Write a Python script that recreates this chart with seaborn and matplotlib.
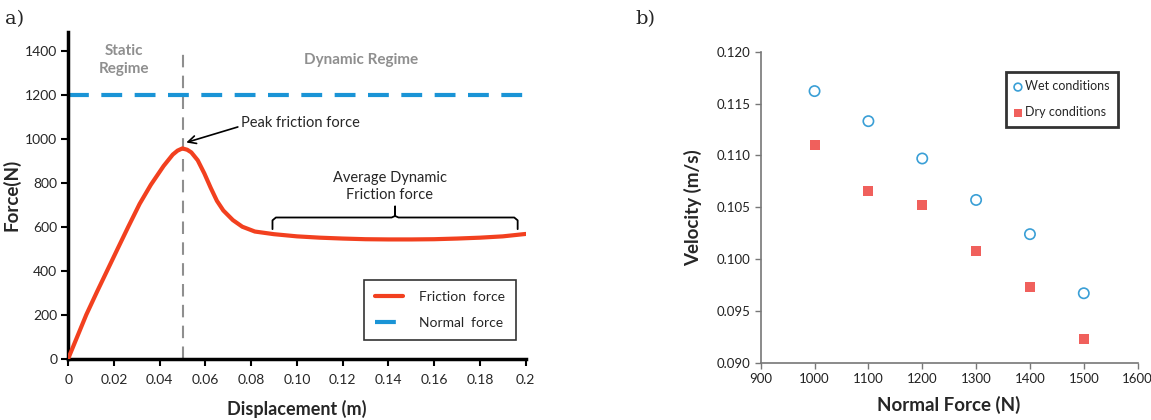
import numpy as np
import pandas as pd
import seaborn as sns
import matplotlib.pyplot as plt

# --- panel a) friction test (values read off the curve) ---
displacement = [0, 0.0079, 0.0126, 0.0172, 0.0218, 0.0263, 0.0312, 0.0361, 0.0417,
                0.0457, 0.0478, 0.0499, 0.0520, 0.0538, 0.0566, 0.0595, 0.0623,
                0.0650, 0.0678, 0.0720, 0.0761, 0.0816, 0.0899, 0.100, 0.110,
                0.120, 0.130, 0.140, 0.150, 0.160, 0.170, 0.180, 0.190, 0.200]
friction = [0, 200, 305, 405, 505, 602, 705, 792, 878,
            930, 948, 958, 952, 940, 904, 844, 778,
            719, 675, 631, 601, 579, 567, 557, 551,
            547, 544, 543, 543, 544, 547, 551, 557, 568]
normal_x = [0, 0.2]
normal_y = [1200, 1200]
peak_x = 0.05

x_ticks_a = [0, 0.02, 0.04, 0.06, 0.08, 0.10, 0.12, 0.14, 0.16, 0.18, 0.2]
x_labels_a = ['0', '0.02', '0.04', '0.06', '0.08', '0.10', '0.12', '0.14', '0.16', '0.18', '0.2']
y_ticks_a = [0, 200, 400, 600, 800, 1000, 1200, 1400]

# --- panel b) velocity vs normal force ---
normal_force = [1000, 1100, 1200, 1300, 1400, 1500]
wet = [0.1162, 0.1133, 0.1097, 0.1057, 0.1024, 0.0967]
dry = [0.1110, 0.1066, 0.1052, 0.1008, 0.0973, 0.0923]

sns.set_style("ticks")
plt.rcParams['font.family'] = ['Lato', 'DejaVu Sans']

RED = '#f2401f'
BLUE = '#1a94d6'
GREY = '#8f8f8f'

fig = plt.figure(figsize=(11.51, 4.2), dpi=100)
ax1 = fig.add_axes([0.0593, 0.1464, 0.3974, 0.778])
ax2 = fig.add_axes([0.6609, 0.1364, 0.3275, 0.7405])

df_f = pd.DataFrame({'x': displacement, 'y': friction})
df_n = pd.DataFrame({'x': normal_x, 'y': normal_y})

# dashed line at peak
ax1.axvline(peak_x, ymin=0, ymax=1400 / 1490, color=GREY, lw=1.5, dashes=(6, 4), zorder=1)
sns.lineplot(data=df_n, x='x', y='y', ax=ax1, color=BLUE, lw=3, label='Normal  force', zorder=2)
ax1.lines[-1].set_dashes((5, 3))
sns.lineplot(data=df_f, x='x', y='y', ax=ax1, color=RED, lw=3, label='Friction  force', zorder=3)
ax1.lines[-1].set_solid_joinstyle('round')

ax1.set_xlim(0, 0.2)
ax1.set_ylim(0, 1490)
ax1.set_xticks(x_ticks_a)
ax1.set_xticklabels(x_labels_a)
ax1.set_yticks(y_ticks_a)
ax1.tick_params(axis='both', labelsize=10, width=1.5, length=5, color='black', pad=3)
ax1.tick_params(axis='x', pad=6)
for s in ['top', 'right']:
    ax1.spines[s].set_visible(False)
for s in ['left', 'bottom']:
    ax1.spines[s].set_linewidth(2.5)
    ax1.spines[s].set_color('black')
ax1.set_xlabel('Displacement (m)', fontsize=13, fontweight='bold', labelpad=10)
ax1.set_ylabel('Force(N)', fontsize=13.5, fontweight='bold', labelpad=3)

ax1.text(0.0245, 1363, 'Static\nRegime', color=GREY, fontsize=11, fontweight='bold',
         ha='center', va='center', linespacing=1.35)
ax1.text(0.128, 1362, 'Dynamic Regime', color=GREY, fontsize=11, fontweight='bold',
         ha='center', va='center')
ax1.annotate('Peak friction force', xy=(0.0516, 985), xytext=(0.0757, 1075),
             fontsize=10.5, ha='left', va='center',
             arrowprops=dict(arrowstyle='->', color='black', lw=1.2,
                             shrinkA=0, shrinkB=0, mutation_scale=14,
                             patchA=None, relpos=(-0.03, 0.2)))
ax1.text(0.1405, 785, 'Average Dynamic\nFriction force', fontsize=10.5,
         ha='center', va='center', linespacing=1.3)

# curly brace over the dynamic part
bl, br, bm = 0.0893, 0.1965, 0.1429
bx = [bl, bl, bl + 0.0015, bm - 0.0015, bm, bm, bm, bm + 0.0015, br - 0.0015, br, br]
by = [590, 630, 643, 643, 650, 693, 650, 643, 643, 630, 590]
ax1.plot(bx, by, color='black', lw=1.3, solid_joinstyle='round')

h, l = ax1.get_legend_handles_labels()
leg = ax1.legend(h[::-1], l[::-1], loc='lower right', bbox_to_anchor=(0.995, 0.035),
                 fontsize=10, frameon=True, fancybox=False, edgecolor='black',
                 borderpad=0.8, labelspacing=1.0, handlelength=2.0, handletextpad=1.2)
leg.get_frame().set_linewidth(1.2)

# panel b
df_w = pd.DataFrame({'force': normal_force, 'v': wet})
df_d = pd.DataFrame({'force': normal_force, 'v': dry})
sns.scatterplot(data=df_w, x='force', y='v', ax=ax2, marker='o', s=55,
                facecolor='none', edgecolor='#3a9fd6', linewidth=1.2, label='Wet conditions')
sns.scatterplot(data=df_d, x='force', y='v', ax=ax2, marker='s', s=55,
                color='#f0605c', edgecolor='#f0605c', linewidth=0, label='Dry conditions')
ax2.set_xlim(900, 1600)
ax2.set_ylim(0.090, 0.120)
ax2.set_xticks(range(900, 1601, 100))
ax2.set_yticks(np.arange(0.090, 0.1201, 0.005))
ax2.yaxis.set_major_formatter(plt.FormatStrFormatter('%.3f'))
ax2.tick_params(axis='both', labelsize=9.5, width=1, length=4, color='#777777', labelcolor='#222222')
for s in ['top', 'right']:
    ax2.spines[s].set_visible(False)
for s in ['left', 'bottom']:
    ax2.spines[s].set_linewidth(1.2)
    ax2.spines[s].set_color('#777777')
ax2.set_xlabel('Normal Force (N)', fontsize=13.5, fontweight='bold', labelpad=8)
ax2.set_ylabel('Velocity (m/s)', fontsize=13.5, fontweight='bold', labelpad=10)
leg2 = ax2.legend(loc='upper right', bbox_to_anchor=(0.948, 0.936), fontsize=9,
                  frameon=True, fancybox=False, edgecolor='black', borderpad=0.7,
                  labelspacing=1.1, handlelength=0.5, handletextpad=0.3, borderaxespad=0,
                  markerscale=0.75)
leg2.get_frame().set_linewidth(2)

fig.text(0.004, 0.955, 'a)', fontsize=14, family='serif', va='center')
fig.text(0.552, 0.955, 'b)', fontsize=14, family='serif', va='center')

plt.savefig('out.png', dpi=100)
